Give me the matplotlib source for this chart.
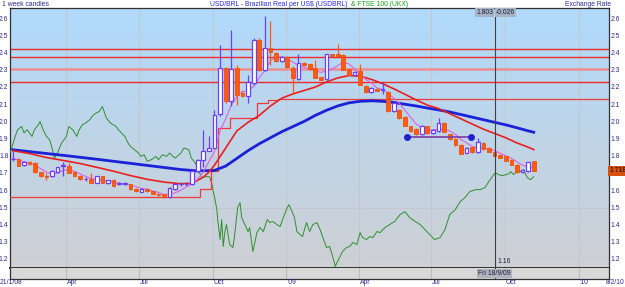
import matplotlib
matplotlib.use('Agg')
import matplotlib.pyplot as plt
import matplotlib.dates as mdates
import numpy as np
import pandas as pd

plt.rcParams['font.family'] = ['Liberation Sans', 'DejaVu Sans']

# ---------------- data ----------------
first_candle = '2008-01-25'
opens = [1.787, 1.787, 1.749, 1.767, 1.764, 1.710, 1.690, 1.686, 1.710, 1.745,
         1.745, 1.710, 1.690, 1.668, 1.668, 1.648, 1.686, 1.645, 1.665, 1.643,
         1.643, 1.640, 1.613, 1.597, 1.613, 1.600, 1.585, 1.580, 1.564, 1.609,
         1.638, 1.638, 1.638, 1.715, 1.783, 1.835, 1.851, 2.049, 2.316, 2.122,
         2.316, 2.171, 2.151, 2.229, 2.481, 2.306, 2.433, 2.403, 2.355, 2.378,
         2.316, 2.252, 2.345, 2.339, 2.316, 2.262, 2.252, 2.397, 2.397, 2.394,
         2.310, 2.277, 2.297, 2.213, 2.174, 2.194, 2.190, 2.178, 2.064, 2.072,
         2.031, 1.977, 1.962, 1.929, 1.977, 1.938, 1.948, 1.998, 1.930, 1.904,
         1.868, 1.824, 1.855, 1.826, 1.880, 1.851, 1.829, 1.812, 1.802, 1.783,
         1.754, 1.709, 1.715, 1.773]
closes = [1.789, 1.748, 1.767, 1.756, 1.709, 1.686, 1.682, 1.715, 1.738, 1.750,
          1.707, 1.688, 1.670, 1.668, 1.648, 1.686, 1.648, 1.663, 1.628, 1.643,
          1.643, 1.610, 1.600, 1.613, 1.600, 1.585, 1.575, 1.564, 1.619, 1.642,
          1.638, 1.638, 1.719, 1.783, 1.835, 1.851, 2.045, 2.316, 2.122, 2.310,
          2.161, 2.151, 2.232, 2.481, 2.306, 2.433, 2.409, 2.355, 2.378, 2.320,
          2.258, 2.345, 2.335, 2.310, 2.258, 2.248, 2.397, 2.384, 2.388, 2.306,
          2.277, 2.293, 2.219, 2.174, 2.200, 2.184, 2.190, 2.064, 2.115, 2.026,
          1.980, 1.948, 1.929, 1.981, 1.938, 1.958, 1.996, 1.945, 1.902, 1.865,
          1.818, 1.851, 1.826, 1.884, 1.845, 1.829, 1.803, 1.793, 1.777, 1.754,
          1.709, 1.722, 1.767, 1.718]
highs = [1.830, 1.792, 1.772, 1.772, 1.766, 1.713, 1.705, 1.720, 1.742, 1.770,
         1.765, 1.713, 1.695, 1.680, 1.705, 1.690, 1.690, 1.667, 1.668, 1.650,
         1.650, 1.643, 1.616, 1.616, 1.616, 1.603, 1.588, 1.583, 1.622, 1.646,
         1.650, 1.650, 1.722, 1.786, 1.958, 1.919, 2.074, 2.452, 2.320, 2.539,
         2.335, 2.180, 2.277, 2.490, 2.490, 2.616, 2.587, 2.410, 2.385, 2.385,
         2.330, 2.399, 2.350, 2.345, 2.364, 2.266, 2.400, 2.400, 2.458, 2.397,
         2.315, 2.297, 2.339, 2.216, 2.204, 2.198, 2.232, 2.182, 2.118, 2.076,
         2.034, 1.980, 1.965, 1.984, 1.980, 1.961, 2.026, 2.001, 1.933, 1.907,
         1.871, 1.854, 1.858, 1.909, 1.883, 1.854, 1.832, 1.815, 1.805, 1.786,
         1.757, 1.726, 1.770, 1.776]
lows = [1.775, 1.745, 1.745, 1.750, 1.705, 1.680, 1.667, 1.683, 1.705, 1.686,
        1.703, 1.684, 1.665, 1.660, 1.645, 1.645, 1.645, 1.642, 1.625, 1.635,
        1.635, 1.607, 1.597, 1.594, 1.597, 1.582, 1.572, 1.560, 1.561, 1.606,
        1.630, 1.630, 1.635, 1.712, 1.740, 1.830, 1.848, 2.035, 2.110, 2.093,
        2.099, 2.145, 2.113, 2.219, 2.300, 2.297, 2.335, 2.350, 2.350, 2.315,
        2.171, 2.248, 2.330, 2.305, 2.255, 2.244, 2.248, 2.380, 2.384, 2.302,
        2.273, 2.273, 2.215, 2.170, 2.170, 2.180, 2.167, 2.060, 2.060, 2.022,
        1.976, 1.944, 1.925, 1.925, 1.934, 1.934, 1.944, 1.941, 1.898, 1.861,
        1.815, 1.820, 1.822, 1.822, 1.841, 1.825, 1.800, 1.790, 1.774, 1.750,
        1.705, 1.705, 1.712, 1.715]

# moving averages, read at candle indices
blue_idx = [0, 5, 10, 15, 20, 25, 30, 33, 36, 38, 40, 42, 44, 46, 48, 50, 52, 54, 56,
            58, 60, 62, 64, 66, 68, 70, 72, 74, 76, 78, 80, 82, 84, 86, 88, 90, 92, 93]
blue_ma = [1.840, 1.822, 1.804, 1.785, 1.765, 1.745, 1.725, 1.717, 1.720, 1.745, 1.790,
           1.835, 1.875, 1.910, 1.945, 1.975, 2.005, 2.040, 2.070, 2.095, 2.113, 2.122,
           2.125, 2.122, 2.115, 2.105, 2.095, 2.083, 2.072, 2.060, 2.045, 2.030, 2.015,
           2.000, 1.985, 1.968, 1.950, 1.942]
red_idx = [0, 3, 6, 9, 12, 15, 18, 21, 24, 27, 30, 32, 34, 35, 36, 37, 38, 39, 40, 42,
           44, 46, 48, 50, 52, 54, 56, 58, 60, 62, 64, 66, 68, 70, 72, 74, 76, 78, 80,
           82, 84, 86, 88, 90, 92, 93]
red_ma = [1.835, 1.818, 1.795, 1.778, 1.760, 1.738, 1.715, 1.690, 1.668, 1.652, 1.642,
          1.645, 1.680, 1.710, 1.750, 1.800, 1.850, 1.900, 1.950, 2.000, 2.040, 2.095,
          2.140, 2.165, 2.185, 2.205, 2.235, 2.258, 2.272, 2.268, 2.250, 2.225, 2.195,
          2.163, 2.130, 2.100, 2.080, 2.050, 2.020, 1.990, 1.960, 1.935, 1.910, 1.880,
          1.855, 1.841]
pink_ma = [1.790, 1.780, 1.770, 1.765, 1.750, 1.730, 1.710, 1.700, 1.705, 1.720,
           1.725, 1.715, 1.700, 1.685, 1.672, 1.667, 1.660, 1.660, 1.655, 1.645,
           1.640, 1.635, 1.625, 1.615, 1.610, 1.600, 1.592, 1.580, 1.582, 1.590,
           1.605, 1.625, 1.640, 1.670, 1.710, 1.770, 1.830, 1.950, 2.020, 2.100,
           2.150, 2.180, 2.180, 2.210, 2.260, 2.300, 2.360, 2.380, 2.380, 2.370,
           2.350, 2.330, 2.320, 2.310, 2.300, 2.290, 2.300, 2.310, 2.330, 2.350,
           2.340, 2.310, 2.280, 2.250, 2.230, 2.200, 2.190, 2.170, 2.140, 2.110,
           2.070, 2.030, 1.990, 1.970, 1.955, 1.955, 1.960, 1.960, 1.950, 1.930,
           1.900, 1.880, 1.860, 1.850, 1.850, 1.845, 1.835, 1.820, 1.805, 1.790,
           1.770, 1.750, 1.740, 1.735]

# trailing step line
step_dates = ['2008-01-21', '2008-09-15', '2008-09-29', '2008-10-08', '2008-10-22',
              '2008-11-25', '2008-12-09', '2008-12-22', '2010-02-08']
step_vals = [1.563, 1.610, 1.715, 1.967, 2.026, 2.113, 2.129, 2.137, 2.137]

# horizontal levels
red_levels = [2.426, 2.379, 2.235]
pink_level = 2.310

# FTSE 100 (hidden second scale)
ftse_dates = [
    '2008-01-21', '2008-01-23', '2008-01-28', '2008-01-31', '2008-02-05', '2008-02-08', '2008-02-12', '2008-02-18', '2008-02-21', '2008-02-26',
    '2008-02-28', '2008-03-03', '2008-03-07', '2008-03-11', '2008-03-14', '2008-03-17', '2008-03-21', '2008-03-26', '2008-04-01', '2008-04-04',
    '2008-04-09', '2008-04-14', '2008-04-17', '2008-04-21', '2008-04-25', '2008-04-30', '2008-05-05', '2008-05-08', '2008-05-12', '2008-05-16',
    '2008-05-21', '2008-05-26', '2008-06-02', '2008-06-05', '2008-06-09', '2008-06-13', '2008-06-17', '2008-06-20', '2008-06-25', '2008-06-30',
    '2008-07-03', '2008-07-07', '2008-07-11', '2008-07-16', '2008-07-22', '2008-07-25', '2008-07-30', '2008-08-04', '2008-08-08', '2008-08-12',
    '2008-08-15', '2008-08-22', '2008-08-26', '2008-09-01', '2008-09-04', '2008-09-09', '2008-09-11', '2008-09-17', '2008-09-22', '2008-09-27',
    '2008-09-30', '2008-10-01', '2008-10-03', '2008-10-06', '2008-10-07', '2008-10-10', '2008-10-12', '2008-10-14', '2008-10-16', '2008-10-18',
    '2008-10-22', '2008-10-26', '2008-10-28', '2008-11-01', '2008-11-04', '2008-11-06', '2008-11-10', '2008-11-14', '2008-11-16', '2008-11-20',
    '2008-11-25', '2008-11-29', '2008-12-03', '2008-12-08', '2008-12-11', '2008-12-15', '2008-12-20', '2008-12-24', '2008-12-28', '2009-01-02',
    '2009-01-04', '2009-01-08', '2009-01-11', '2009-01-14', '2009-01-18', '2009-01-21', '2009-01-26', '2009-01-30', '2009-02-03', '2009-02-08',
    '2009-02-12', '2009-02-15', '2009-02-20', '2009-02-24', '2009-02-28', '2009-03-03', '2009-03-05', '2009-03-09', '2009-03-12', '2009-03-17',
    '2009-03-21', '2009-03-25', '2009-03-30', '2009-04-03', '2009-04-06', '2009-04-11', '2009-04-15', '2009-04-19', '2009-04-24', '2009-04-28',
    '2009-05-04', '2009-05-10', '2009-05-16', '2009-05-23', '2009-05-29', '2009-06-04', '2009-06-11', '2009-06-17', '2009-06-23', '2009-06-29',
    '2009-07-05', '2009-07-12', '2009-07-18', '2009-07-24', '2009-07-31', '2009-08-06', '2009-08-12', '2009-08-18', '2009-08-25', '2009-08-31',
    '2009-09-06', '2009-09-10', '2009-09-15', '2009-09-19', '2009-09-23', '2009-09-28', '2009-10-02', '2009-10-06', '2009-10-08', '2009-10-12',
    '2009-10-17', '2009-10-21', '2009-10-24', '2009-10-29', '2009-11-02', '2009-11-06']
ftse_vals = [
    5518, 5571, 5805, 5923, 5982, 5870, 5923, 5805, 5923, 6012,
    6070, 5923, 5805, 5747, 5601, 5424, 5518, 5689, 5805, 5982,
    5923, 5805, 5923, 6012, 6042, 6100, 6188, 6218, 6246, 6334,
    6130, 6042, 5982, 5923, 5865, 5805, 5689, 5629, 5571, 5512,
    5452, 5482, 5364, 5394, 5452, 5394, 5482, 5452, 5512, 5452,
    5424, 5512, 5601, 5571, 5424, 5336, 5271, 5077, 5094, 5094,
    4953, 4865, 4742, 4512, 4336, 3983, 4336, 3860, 4124, 4248,
    3895, 3842, 4036, 4547, 4636, 4371, 4248, 4124, 4195, 3771,
    4106, 4195, 4124, 4336, 4283, 4301, 4248, 4212, 4371, 4547,
    4600, 4477, 4371, 4124, 4071, 4036, 4283, 4124, 4248, 4283,
    4159, 4036, 3842, 3860, 3665, 3507, 3577, 3683, 3771, 3842,
    3860, 3930, 3895, 4106, 4018, 3983, 4036, 4018, 4124, 4106,
    4195, 4248, 4301, 4424, 4477, 4371, 4301, 4248, 4159, 4071,
    3983, 4018, 4159, 4424, 4512, 4653, 4724, 4830, 4865, 4865,
    4900, 4988, 5094, 5165, 5130, 5112, 5130, 5147, 5183, 5130,
    5218, 5183, 5218, 5077, 5041, 5094]

cursor_date = '2009-09-18'
cursor_value = '1.803'
cursor_change = '-0.026'
cursor_low_label = '1.16'
cursor_day_label = 'Fri 18/9/09'
last_price = '1.718'
trend_dates = ['2009-05-31', '2009-08-19']
trend_vals = [1.915, 1.915]

y_ticks = [1.2, 1.3, 1.4, 1.5, 1.6, 1.7, 1.8, 1.9, 2.0, 2.1, 2.2, 2.3, 2.4, 2.5, 2.6]
grid_dates = ['2008-04-01', '2008-07-01', '2008-10-01', '2009-01-01', '2009-04-01',
              '2009-07-01', '2009-10-01', '2010-01-01']
grid_labels = ['Apr', 'Jul', 'Oct', "'09", 'Apr', 'Jul', 'Oct', "'10"]
x_start, x_end = '2008-01-21', '2010-02-08'
start_label, end_label = '21/1/08', '8/2/10'

# ---------------- figure ----------------
W, H = 625, 287
fig = plt.figure(figsize=(W / 100, H / 100), dpi=100)
fig.patch.set_facecolor('white')

def rect(x0, y0, x1, y1):
    return [x0 / W, 1 - y1 / H, (x1 - x0) / W, (y1 - y0) / H]

ax = fig.add_axes(rect(9.6, 8, 609, 267.5))
axs = fig.add_axes(rect(9.6, 267.5, 609, 279))

xs = mdates.datestr2num(x_start)
xe = mdates.datestr2num(x_end)
ymin, ymax = 1.155, 2.665
ax.set_xlim(xs, xe)
ax.set_ylim(ymin, ymax)
axs.set_xlim(xs, xe)
axs.set_ylim(0, 1)

# gradient background
grad = np.linspace(0, 1, 256).reshape(-1, 1)
top_c = np.array([176, 218, 252]) / 255
bot_c = np.array([206, 208, 212]) / 255
img = top_c[None, None, :] * (1 - grad[:, :, None]) + bot_c[None, None, :] * grad[:, :, None]
ax.imshow(img, extent=[xs, xe, ymin, ymax], aspect='auto', origin='upper', zorder=0)
axs.set_facecolor('#d8d8d8')

gd = mdates.datestr2num(grid_dates)
for g in gd:
    ax.axvline(g, color='#c4c8cc', lw=0.8, zorder=1)
    axs.axvline(g, color='#bcbcbc', lw=0.8, zorder=1)
ax.axhline(1.5, color='#c4c8cc', lw=0.8, zorder=1)

# horizontal levels
for lv in red_levels:
    ax.axhline(lv, color='#f02a2a', lw=1.0, zorder=2)
ax.axhline(pink_level, color='#ec8e8e', lw=1.8, zorder=2)

# FTSE on twin scale
axf = ax.twinx()
axf.set_ylim(3489, 8075)
axf.plot(mdates.datestr2num(ftse_dates), ftse_vals, color='#2f8f2f', lw=0.7, zorder=3)
axf.set_yticks([])
axf.patch.set_visible(False)
for s in axf.spines.values():
    s.set_visible(False)
axf.set_zorder(ax.get_zorder() + 1)

# overlay for price drawings
axt = fig.add_axes(ax.get_position(), sharex=ax, sharey=ax)
axt.patch.set_visible(False)
axt.set_zorder(axf.get_zorder() + 1)

dates = pd.date_range(first_candle, periods=len(closes), freq='7D')
dn = mdates.date2num(dates)

axt.plot(mdates.datestr2num(step_dates), step_vals, drawstyle='steps-post',
         color='#ee3a3a', lw=0.9, zorder=3)
axt.plot(dn[blue_idx], blue_ma, color='#1a22d8', lw=2.0, zorder=4)
axt.plot(dn[red_idx], red_ma, color='#e82020', lw=1.2, zorder=4)
axt.plot(dn, pink_ma, color='#e060e0', lw=0.8, zorder=5)

o = np.array(opens); c = np.array(closes); hi = np.array(highs); lo = np.array(lows)
up = c >= o
body_w = 4.6
up_col = '#6a40ff'
dn_col = '#ff5a10'
axt.vlines(dn[up], lo[up], hi[up], color=up_col, lw=0.9, zorder=6)
axt.vlines(dn[~up], lo[~up], hi[~up], color=dn_col, lw=0.9, zorder=6)
bot = np.minimum(o, c)
hgt = np.maximum(np.abs(c - o), 0.002)
axt.bar(dn[up], hgt[up], bottom=bot[up], width=body_w, color='white',
        edgecolor=up_col, linewidth=0.9, zorder=7)
axt.bar(dn[~up], hgt[~up], bottom=bot[~up], width=body_w, color=dn_col,
        edgecolor='#f05008', linewidth=0.6, zorder=7)

td = mdates.datestr2num(trend_dates)
axt.plot(td, trend_vals, color='#7a3aa8', lw=1.2, zorder=8)
axt.plot(td, trend_vals, 'o', color='#2020d0', ms=4, zorder=9)

cd = mdates.datestr2num(cursor_date)
axt.axvline(cd, color='#404040', lw=0.8, zorder=9)
axs.axvline(cd, color='#404040', lw=0.8, zorder=3)

axt.set_xlim(xs, xe)
axt.set_ylim(ymin, ymax)
for a in (ax, axt):
    a.set_xticks([])
    a.set_yticks([])
for s in axt.spines.values():
    s.set_visible(False)
for s in ax.spines.values():
    s.set_color('#303030'); s.set_linewidth(0.9)
ax.spines['bottom'].set_linewidth(1.4)
axs.set_xticks([]); axs.set_yticks([])
for s in axs.spines.values():
    s.set_color('#303030'); s.set_linewidth(0.9)
axs.spines['top'].set_visible(False)

fs = 4.9
lab_col = '#2c2c8c'
lp = float(last_price)
for yv in y_ticks:
    yf = (yv - ymin) / (ymax - ymin)
    if abs(yv - lp) > 0.04:
        ax.text(1.003, yf, f'{yv:.1f}', transform=ax.transAxes,
                ha='left', va='center', fontsize=fs, color=lab_col)
    ax.text(-0.002, yf, f'{yv:.1f}', transform=ax.transAxes,
            ha='right', va='center', fontsize=fs, color=lab_col)

xfig = lambda d: ax.transData.transform((d, ymin))[0] / W
for g, lbl in zip(gd, grid_labels):
    fig.text(xfig(g) + 1.0 / W, 1 - 282.8 / H, lbl, ha='left', va='center',
             fontsize=fs, color=lab_col)
fig.text(0.0 / W, 1 - 282.8 / H, start_label, ha='left', va='center', fontsize=fs, color=lab_col)
fig.text(624 / W, 1 - 282.8 / H, end_label, ha='right', va='center', fontsize=fs, color=lab_col)

fig.text(2 / W, 1 - 4.5 / H, '1 week candles', ha='left', va='center', fontsize=fs, color='#2c2c8c')
fig.text(348 / W, 1 - 4.5 / H, 'USD/BRL - Brazilian Real per US$ (USDBRL)', ha='right',
         va='center', fontsize=fs, color='#2a2ad0')
fig.text(351 / W, 1 - 4.5 / H, '& FTSE 100 (UKX)', ha='left', va='center', fontsize=fs,
         color='#18a018')
fig.text(611 / W, 1 - 4.5 / H, 'Exchange Rate', ha='right', va='center', fontsize=fs,
         color='#2c2c8c')

axt.text(cd - 1.5, ymax - 0.005, cursor_value, ha='right', va='top', fontsize=fs,
         color='#202040', bbox=dict(boxstyle='square,pad=0.15', fc='#a8b4c4', ec='none'), zorder=10)
axt.text(cd + 1.5, ymax - 0.005, cursor_change, ha='left', va='top', fontsize=fs,
         color='#202040', bbox=dict(boxstyle='square,pad=0.15', fc='#a8b4c4', ec='none'), zorder=10)
axt.text(cd + 3, ymin + 0.012, cursor_low_label, ha='left', va='bottom', fontsize=fs,
         color='#202040', zorder=10)
axs.text(cd, 0.45, cursor_day_label, ha='center', va='center', fontsize=fs, color='#202040',
         bbox=dict(boxstyle='square,pad=0.15', fc='#b0b4bc', ec='none'), zorder=10)

ax.text(1.0, (lp - ymin) / (ymax - ymin), last_price, transform=ax.transAxes, ha='left',
        va='center', fontsize=fs, color='#101010',
        bbox=dict(boxstyle='square,pad=0.2', fc='#d85010', ec='none'), zorder=20)

fig.savefig('out.png', dpi=100)
